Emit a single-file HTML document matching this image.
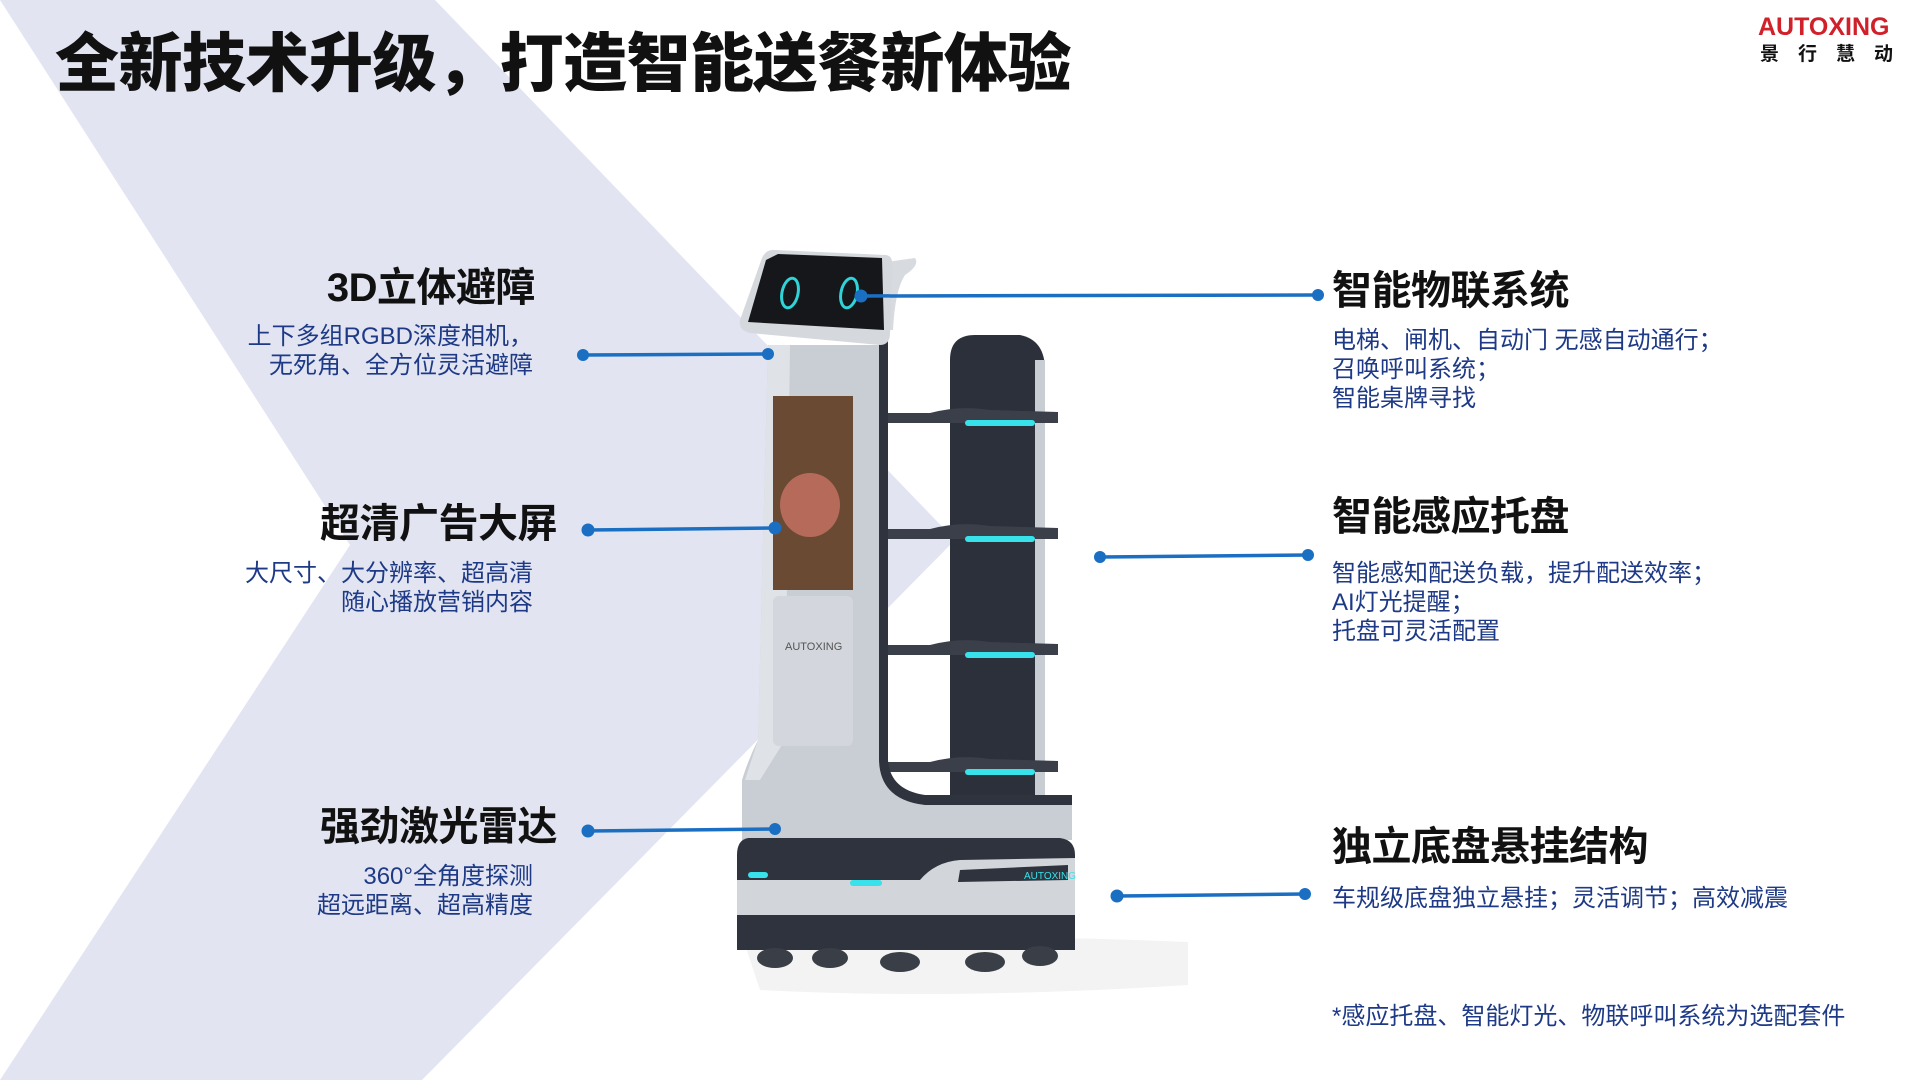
<!DOCTYPE html>
<html><head><meta charset="utf-8">
<style>
html,body{margin:0;padding:0}
body{width:1920px;height:1080px;position:relative;overflow:hidden;background:#fff;font-family:"Liberation Sans","Noto Sans CJK SC",sans-serif}
.t{position:absolute;white-space:nowrap}
.h{font-size:40px;font-weight:700;color:#111;line-height:48px;letter-spacing:-0.5px}
.s{font-size:24px;color:#1e3a86;line-height:29px}
.r{text-align:right}
</style></head><body>
<svg width="1920" height="1080" style="position:absolute;left:0;top:0">
<polygon points="0,0 435,0 955,540 422,1080 0,1080 350,545 0,0" fill="#e2e5f1"/>
<!-- shadow -->
<path d="M745,945 Q900,930 1188,942 L1188,985 Q950,1000 760,990 Z" fill="#f3f3f3"/>
<!-- tower back panel -->
<path d="M950,360 Q950,335 975,335 L1020,335 Q1045,340 1045,370 L1045,800 L950,800 Z" fill="#2b303b"/>
<rect x="1035" y="360" width="10" height="440" fill="#c8ccd3"/>
<!-- shelves -->
<g fill="#3a3f4a">
<path d="M883,413 L930,413 Q960,405 990,410 L1058,412 L1058,423 L883,423 Z"/>
<path d="M883,529 L930,529 Q960,521 990,526 L1058,528 L1058,539 L883,539 Z"/>
<path d="M883,645 L930,645 Q960,637 990,642 L1058,644 L1058,655 L883,655 Z"/>
<path d="M883,762 L930,762 Q960,754 990,759 L1058,761 L1058,772 L883,772 Z"/>
</g>
<g fill="#37e2ea">
<rect x="965" y="420" width="70" height="6" rx="3"/>
<rect x="965" y="536" width="70" height="6" rx="3"/>
<rect x="965" y="652" width="70" height="6" rx="3"/>
<rect x="965" y="769" width="70" height="6" rx="3"/>
</g>
<!-- main column -->
<path d="M768,345 L882,345 L882,760 Q884,800 925,800 L1072,800 L1072,840 L742,840 L742,780 Q748,760 758,740 Z" fill="#c9cdd4"/>
<path d="M768,345 L790,345 L785,740 L760,780 L745,780 L758,740 Z" fill="#dfe2e7"/>
<path d="M882,290 Q900,260 910,262 L898,275 Q888,300 888,340 L888,760 Q890,790 925,795 L1072,795 L1072,805 L925,805 Q880,800 879,760 L879,330 Z" fill="#2e333d"/>
<path d="M886,262 L915,258 Q920,265 905,275 Q895,290 893,330 L882,330 Z" fill="#d7dadf"/>
<rect x="773" y="396" width="80" height="194" fill="#6b4a33"/>
<ellipse cx="810" cy="505" rx="30" ry="32" fill="#b56a5a"/>
<rect x="773" y="596" width="80" height="150" rx="6" fill="#d3d6dc"/>
<text x="785" y="650" font-size="11" fill="#555" font-family="Liberation Sans">AUTOXING</text>
<!-- head -->
<path d="M775,250 L886,255 Q893,256 892,265 L890,335 Q889,345 880,345 L750,333 Q738,330 740,320 L762,258 Q766,249 775,250 Z" fill="#d5d8dd"/>
<path d="M778,254 L882,258 L884,330 L748,322 L766,260 Z" fill="#15171b"/>
<ellipse cx="790" cy="293" rx="8" ry="15" fill="none" stroke="#2fd3d8" stroke-width="3" transform="rotate(12 790 293)"/>
<ellipse cx="849" cy="293" rx="8" ry="15" fill="none" stroke="#2fd3d8" stroke-width="3" transform="rotate(12 849 293)"/>
<!-- chassis -->
<path d="M748,838 L1060,838 Q1075,840 1075,855 L1075,950 L737,950 L737,855 Q737,840 748,838 Z" fill="#2e333d"/>
<path d="M737,880 L920,880 Q935,862 960,860 L1075,858 L1075,915 L737,915 Z" fill="#d2d5da"/>
<rect x="748" y="872" width="20" height="6" rx="3" fill="#37e2ea"/>
<rect x="850" y="880" width="32" height="6" rx="3" fill="#37e2ea"/>
<path d="M960,870 L1068,865 L1068,880 L958,882 Z" fill="#2e333d"/>
<text x="1024" y="879" font-size="10" fill="#37e2ea" font-family="Liberation Sans">AUTOXING</text>
<g fill="#3a3e46"><ellipse cx="775" cy="958" rx="18" ry="10"/><ellipse cx="830" cy="958" rx="18" ry="10"/><ellipse cx="900" cy="962" rx="20" ry="10"/><ellipse cx="985" cy="962" rx="20" ry="10"/><ellipse cx="1040" cy="956" rx="18" ry="10"/></g>
<!-- connectors -->
<g stroke="#1b6fc2" stroke-width="3.5" fill="#1b6fc2">
<line x1="583" y1="355" x2="768" y2="354"/><circle cx="583" cy="355" r="6" stroke="none"/><circle cx="768" cy="354" r="6" stroke="none"/>
<line x1="588" y1="530" x2="775" y2="528"/><circle cx="588" cy="530" r="6.5" stroke="none"/><circle cx="775" cy="528" r="6.5" stroke="none"/>
<line x1="588" y1="831" x2="775" y2="829"/><circle cx="588" cy="831" r="6.5" stroke="none"/><circle cx="775" cy="829" r="6" stroke="none"/>
<line x1="861" y1="296" x2="1318" y2="295"/><circle cx="861" cy="296" r="6.5" stroke="none"/><circle cx="1318" cy="295" r="6" stroke="none"/>
<line x1="1100" y1="557" x2="1308" y2="555"/><circle cx="1100" cy="557" r="6" stroke="none"/><circle cx="1308" cy="555" r="6" stroke="none"/>
<line x1="1117" y1="896" x2="1305" y2="894"/><circle cx="1117" cy="896" r="6.5" stroke="none"/><circle cx="1305" cy="894" r="6" stroke="none"/>
</g>
</svg>

<div class="t" style="left:55px;top:24px;font-size:64px;font-weight:900;color:#111;line-height:80px;letter-spacing:-0.5px">全新技术升级，打造智能送餐新体验</div>

<div class="t" style="left:1758px;top:12px;font-size:25px;font-weight:700;color:#d0202a;font-family:'Liberation Sans',sans-serif;line-height:30px">AUTOXING</div>
<div class="t" style="left:1760px;top:44px;font-size:19px;font-weight:700;color:#111;letter-spacing:19px;line-height:22px">景行慧动</div>

<div class="t h r" style="right:1385px;top:264px">3D立体避障</div>
<div class="t s r" style="right:1387px;top:322px">上下多组RGBD深度相机，<br>无死角、全方位灵活避障</div>

<div class="t h r" style="right:1363px;top:500px">超清广告大屏</div>
<div class="t s r" style="right:1387px;top:559px">大尺寸、大分辨率、超高清<br>随心播放营销内容</div>

<div class="t h r" style="right:1363px;top:803px">强劲激光雷达</div>
<div class="t s r" style="right:1387px;top:862px">360°全角度探测<br>超远距离、超高精度</div>

<div class="t h" style="left:1332px;top:267px">智能物联系统</div>
<div class="t s" style="left:1332px;top:326px">电梯、闸机、自动门 无感自动通行；<br>召唤呼叫系统；<br>智能桌牌寻找</div>

<div class="t h" style="left:1332px;top:493px">智能感应托盘</div>
<div class="t s" style="left:1332px;top:559px">智能感知配送负载，提升配送效率；<br>AI灯光提醒；<br>托盘可灵活配置</div>

<div class="t h" style="left:1332px;top:823px">独立底盘悬挂结构</div>
<div class="t s" style="left:1332px;top:884px">车规级底盘独立悬挂；灵活调节；高效减震</div>

<div class="t s" style="left:1332px;top:1002px">*感应托盘、智能灯光、物联呼叫系统为选配套件</div>
</body></html>
